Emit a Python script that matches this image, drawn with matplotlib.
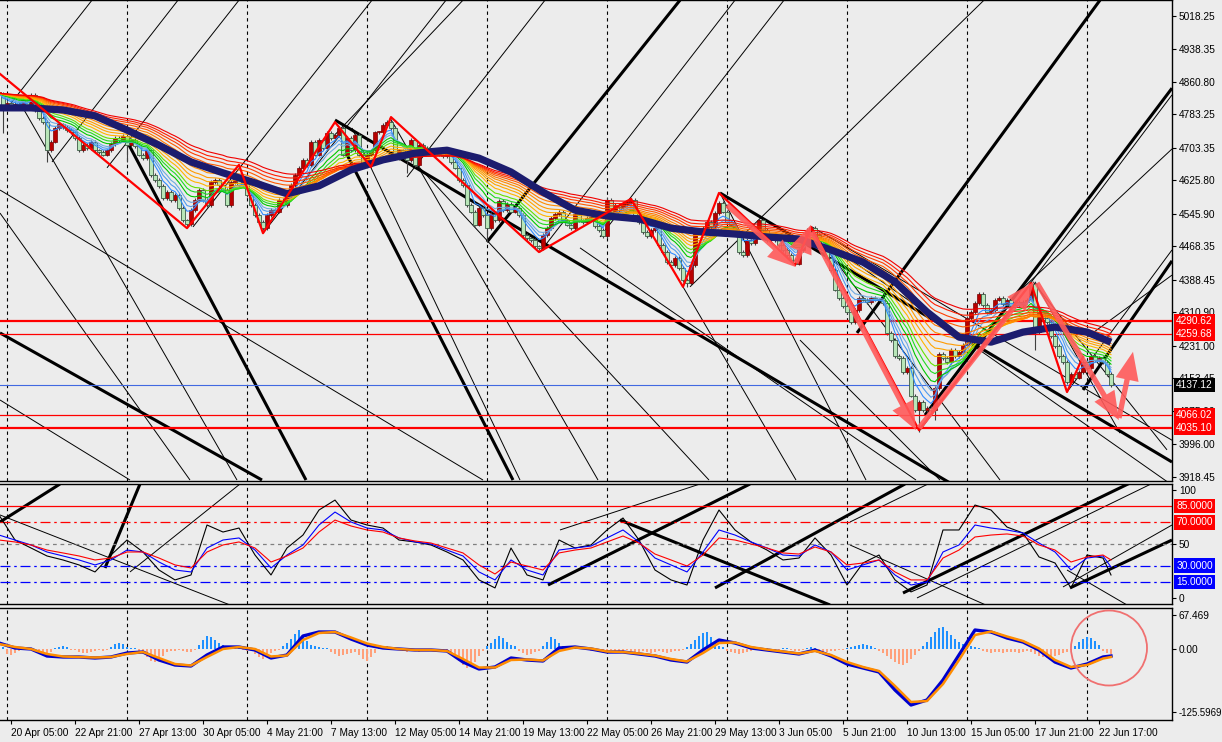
import numpy as np
import pandas as pd
import matplotlib
matplotlib.use('Agg')
import matplotlib.pyplot as plt
from matplotlib.patches import Ellipse, ArrowStyle
from matplotlib.transforms import blended_transform_factory

plt.rcParams['font.family'] = ['Liberation Sans', 'DejaVu Sans']
BG = '#ECECEC'
FS = 7.3

# ---------------- data (H4 bars, bar 0 = 20 Apr 01:00) ----------------
first_bar = -2
closes = [
    4834, 4799, 4811, 4804, 4808, 4799, 4818, 4806, 4830, 4794,
    4775, 4765, 4698, 4718, 4751, 4760, 4753, 4746, 4741, 4727,
    4698, 4710, 4703, 4718, 4698, 4694, 4687, 4698, 4713, 4727,
    4722, 4732, 4710, 4722, 4708, 4687, 4679, 4698, 4639, 4627,
    4613, 4584, 4598, 4579, 4591, 4560, 4531, 4522, 4555, 4579,
    4603, 4579, 4567, 4622, 4627, 4615, 4603, 4567, 4622, 4636,
    4615, 4622, 4591, 4567, 4543, 4527, 4512, 4543, 4555, 4551,
    4579, 4567, 4591, 4615, 4639, 4656, 4675, 4663, 4718, 4687,
    4722, 4703, 4739, 4727, 4734, 4751, 4687, 4727, 4698, 4734,
    4687, 4663, 4687, 4698, 4741, 4741, 4758, 4765, 4751, 4679,
    4698, 4691, 4675, 4722, 4663, 4710, 4703, 4694, 4698, 4687,
    4698, 4684, 4694, 4670, 4656, 4627, 4615, 4567, 4551, 4520,
    4560, 4543, 4512, 4546, 4531, 4577, 4555, 4570, 4551, 4560,
    4543, 4496, 4488, 4484, 4469, 4465, 4496, 4512, 4536, 4546,
    4551, 4531, 4520, 4512, 4546, 4531, 4527, 4536, 4539, 4517,
    4508, 4493, 4579, 4551, 4567, 4562, 4570, 4574, 4579, 4543,
    4527, 4503, 4493, 4508, 4512, 4472, 4455, 4431, 4424, 4441,
    4417, 4388, 4381, 4424, 4503, 4503, 4512, 4527, 4515, 4548,
    4572, 4551, 4527, 4520, 4503, 4455, 4448, 4484, 4477, 4493,
    4531, 4508, 4484, 4484, 4491, 4472, 4460, 4448, 4436, 4427,
    4460, 4488, 4508, 4512, 4496, 4484, 4460, 4441, 4412, 4365,
    4345, 4326, 4312, 4288, 4317, 4345, 4341, 4336, 4345, 4341,
    4341, 4333, 4262, 4245, 4207, 4202, 4169, 4178, 4112, 4078,
    4097, 4078, 4083, 4078, 4131, 4212, 4202, 4193, 4221, 4207,
    4217, 4233, 4298, 4312, 4333, 4355, 4329, 4312, 4317, 4341,
    4345, 4331, 4341, 4326, 4336, 4329, 4336, 4341, 4379, 4264,
    4312, 4298, 4288, 4255, 4231, 4207, 4193, 4145, 4164, 4155,
    4169, 4193, 4178, 4207, 4197, 4202, 4193, 4164, 4137.12,
]
spike_lows = {-1: 4739, 10: 4670, 30: 4670, 100: 4644, 120: 4479,
              170: 4372, 228: 4026, 232: 4054, 257: 4221}
spike_highs = {150: 4586, 256: 4388}

# slow moving average (thick navy), read every 8 bars
navy_bars = list(range(-2, 271, 8)) + [276]
navy_vals = [4799, 4799, 4794, 4780, 4746, 4710, 4670, 4644, 4620, 4594,
             4613, 4651, 4675, 4691, 4698, 4679, 4646, 4598, 4555, 4541,
             4534, 4512, 4503, 4498, 4491, 4486, 4460, 4431, 4384, 4312,
             4252, 4240, 4264, 4276, 4264, 4240]

ribbon_periods = [5, 7, 9, 12, 15, 18, 22, 26, 30, 35, 40, 46, 52, 58, 65]
ribbon_colors = ['#2E8BFF', '#4F9BEF', '#6FAAE0', '#00C800', '#22DA22', '#66E000',
                 '#FFB400', '#FFA500', '#FF9A00', '#FF8C00', '#FF7800', '#FF5A00',
                 '#FF3C00', '#FF1E00', '#F00000']

zz_bars = [-2, 45, 58, 64, 82, 91, 96, 133, 156, 169, 178, 197, 201, 228, 256, 265, 269]
zz_prices = [4882, 4512, 4663, 4500, 4765, 4658, 4777, 4455, 4582, 4372, 4596,
             4424, 4515, 4030, 4381, 4121, 4205]

arrow_from = [(180, 4567), (197.25, 4429), (201.25, 4503), (228, 4035), (257.5, 4381), (278, 4059)]
arrow_to = [(197.25, 4419), (201, 4520), (227.25, 4030), (256.75, 4384), (278, 4054), (281.5, 4217)]

# trend lines: (bar0, price0, bar1, price1, width)
main_lines = [
    (82, 4770, 235.75, 3904, 2.2), (178.25, 4596, 291.25, 3954, 2.2),
    (84, 4706, 126.5, 3911, 2.2), (30.25, 4715, 74.75, 3911, 2.2),
    (-1.75, 4262, 63.75, 3911, 2.2), (120, 4479, 168.25, 5056, 2.2),
    (212.5, 4262, 273.25, 5056, 2.2), (229.5, 4066, 291.25, 4846, 2.2),
    (269, 4126, 291.25, 4434, 2.2),
    (0.25, 4801, 21.25, 5056, 0.7), (11.25, 4670, 42.75, 5056, 0.7),
    (25, 4656, 58, 5056, 0.7), (46.5, 4515, 91.25, 5056, 0.7),
    (64, 4500, 109.75, 5056, 0.7), (100, 4634, 134.5, 5056, 0.7),
    (133.25, 4455, 182, 5056, 0.7), (148.25, 4491, 194.25, 5056, 0.7),
    (170.75, 4372, 244.25, 5056, 0.7), (228.25, 4030, 291.25, 4830, 0.7),
    (265, 4121, 291.25, 4460, 0.7), (81.5, 4730, 114, 5056, 0.7),
    (250.25, 4336, 291.25, 4701, 0.7), (270, 4252, 291.25, 4400, 0.7),
    (3.25, 4811, 57.5, 3911, 0.7), (-1.75, 4603, 119, 3911, 0.7),
    (-1.75, 4548, 45.75, 3911, 0.7), (-1.75, 4102, 30.75, 3911, 0.7),
    (86.25, 4751, 128.25, 3911, 0.7), (95.75, 4775, 147.75, 3911, 0.7),
    (102.5, 4663, 175.5, 3911, 0.7), (143.25, 4465, 227.25, 3911, 0.7),
    (169, 4372, 197.25, 3911, 0.7), (178.25, 4596, 214.75, 3911, 0.7),
    (200.75, 4515, 248.25, 3911, 0.7), (198.25, 4245, 233.25, 3911, 0.7),
    (201.25, 4515, 291.25, 4006, 0.7), (257, 4384, 278.25, 4023, 0.7),
    (256.5, 4384, 290, 3983, 0.7), (201.5, 4500, 291.25, 3899, 0.7),
]
levels_main = [(4290.62, 'red', 1.6), (4259.68, 'red', 0.9), (4066.02, 'red', 0.9),
               (4035.10, 'red', 1.6)]
bid = 4137.12
price_ticks = [5018.25, 4938.35, 4860.80, 4783.25, 4703.35, 4625.80, 4545.90, 4468.35,
               4388.45, 4310.90, 4231.00, 4153.45, 4075.90, 3996.00, 3918.45]

# oscillator (sampled every 4 bars)
osc_bars = list(range(-2, 275, 4)) + [276]
osc_black = [76.9, 53.7, 46.3, 38.9, 35.2, 30.6, 24.1, 39.8, 53.7, 42.6,
             25.9, 16.7, 21.3, 67.6, 61.1, 64.8, 39.8, 21.3, 46.3, 58.3,
             81.5, 90.7, 72.2, 67.6, 64.8, 53.7, 51.9, 49.1, 42.6, 35.2,
             16.7, 9.3, 46.3, 21.3, 16.7, 53.7, 46.3, 49.1, 63.0, 74.1,
             53.7, 25.9, 16.7, 12.0, 53.7, 81.5, 63.0, 51.9, 44.4, 35.2,
             37.0, 55.6, 39.8, 12.0, 32.4, 39.8, 16.7, 5.6, 12.0, 63.0,
             63.0, 86.1, 81.5, 65.7, 60.2, 38.0, 32.4, 9.3, 39.8, 37.0,
             21.3]
osc_blue = [58.3, 53.7, 49.1, 42.6, 38.9, 35.2, 30.6, 35.2, 44.4, 42.6,
            33.3, 25.9, 24.1, 46.3, 53.7, 55.6, 44.4, 27.8, 39.8, 49.1,
            67.6, 79.6, 70.4, 64.8, 63.0, 55.6, 51.9, 50.0, 44.4, 38.9,
            24.1, 16.7, 35.2, 25.9, 21.3, 44.4, 46.3, 48.1, 55.6, 63.0,
            51.9, 37.0, 30.6, 24.1, 42.6, 63.0, 58.3, 51.9, 46.3, 39.8,
            38.9, 49.1, 42.6, 25.9, 30.6, 35.2, 21.3, 12.0, 14.8, 42.6,
            49.1, 67.6, 64.8, 63.0, 60.2, 50.9, 42.6, 25.9, 37.0, 38.9,
            28.7]
osc_red = [53.7, 51.9, 49.1, 44.4, 41.7, 38.9, 35.2, 37.0, 42.6, 42.6,
           37.0, 30.6, 27.8, 42.6, 49.1, 51.9, 46.3, 33.3, 38.9, 46.3,
           61.1, 72.2, 66.7, 63.0, 61.1, 55.6, 52.8, 50.9, 46.3, 41.7,
           30.6, 22.2, 33.3, 29.6, 25.9, 41.7, 44.4, 46.3, 51.9, 57.4,
           50.9, 40.7, 35.2, 29.6, 39.8, 55.6, 53.7, 50.0, 46.3, 41.7,
           40.7, 47.2, 42.6, 30.6, 32.4, 35.2, 24.1, 16.7, 16.7, 37.0,
           44.4, 56.5, 58.3, 59.3, 57.4, 49.1, 44.4, 33.3, 38.0, 39.8,
           35.2]
osc_lines = [
    (-1.75, 70.4, 13.25, 105.6, 2.2), (24.5, 27.8, 33.25, 105.6, 2.2),
    (135.25, 12.0, 185.75, 105.6, 2.2), (224, 4.6, 280.75, 106.5, 2.2),
    (265.75, 9.3, 291.25, 53.7, 2.2), (153.25, 72.2, 205.75, -6.5, 2.2),
    (177, 9.3, 224.5, 105.6, 2.2),
    (-1.75, 76.9, 55.75, -6.5, 0.7), (210.75, 70.4, 230.75, 106.5, 0.7),
    (227.5, 0, 286.5, 106.5, 0.7), (264, 10.2, 291.25, 67.6, 0.7),
    (210.75, 49.1, 247.5, -11.1, 0.7), (265, 25.9, 280, -6.5, 0.7),
    (30.75, 24.1, 58.25, 105.6, 0.7), (138.25, 63.0, 173.25, 105.6, 0.7),
]

# MACD (lines sampled every 4 bars, histogram per bar)
macd_blue = [12, 2, 0, -14, -16, -16, -18, -16, -8, -6,
             -22, -32, -34, -12, 4, 4, -2, -18, -12, 26,
             34, 34, 20, 8, 2, 0, -2, -2, -4, -26,
             -40, -36, -18, -22, -24, 2, 4, 0, -6, -6,
             -10, -14, -22, -26, -2, 18, 12, 2, -2, -6,
             -10, -2, -14, -30, -38, -46, -82, -112, -102, -62,
             -12, 38, 34, 22, 14, -2, -26, -38, -30, -16,
             -14]
macd_orange = [10, 4, 0, -10, -15, -16, -17, -16, -10, -6,
               -18, -30, -33, -16, 0, 4, 0, -15, -13, 18,
               32, 34, 23, 11, 4, 0, -2, -2, -4, -20,
               -37, -37, -22, -21, -23, -4, 3, 1, -5, -6,
               -9, -13, -20, -25, -8, 12, 13, 4, -1, -5,
               -9, -4, -12, -26, -36, -44, -74, -106, -104, -70,
               -22, 28, 35, 25, 16, 1, -22, -36, -32, -19,
               -16]
macd_hist = [
    6, 4, -10, -12, -8, -3, -1, 0, -1, -2,
    -6, -8, -8, -6, 2, 5, 6, 4, -2, -2,
    -6, -8, -8, -6, -3, -2, -3, -2, 4, 10,
    12, 10, 4, 3, 2, -6, -10, -16, -24, -26,
    -20, -14, -6, -4, -3, -2, -4, -6, -5, -2,
    8, 18, 26, 24, 18, 12, 8, 6, 4, 3,
    2, -2, -3, -4, -10, -16, -20, -14, -8, -4,
    -2, 6, 12, 20, 30, 38, 26, 16, 8, 6,
    4, 3, 2, -6, -10, -14, -12, -10, -8, -6,
    -12, -20, -24, -16, -8, 4, 6, 6, 4, 2,
    -2, -4, -6, -4, -3, -5, -4, -3, -2, -3,
    -2, -3, -6, -10, -16, -24, -32, -38, -34, -26,
    -14, -4, 6, 12, 20, 26, 22, 14, 8, 6,
    -4, -8, -12, -10, -6, -4, 6, 14, 24, 20,
    12, 6, 4, 4, 3, 2, 2, -2, -3, -4,
    -4, -6, -3, -2, -4, -5, -3, -2, -4, -6,
    -5, -4, -6, -8, -6, -4, -6, -8, -6, -4,
    -3, -2, 4, 10, 18, 26, 32, 34, 24, 12,
    6, 4, -3, -6, -8, -10, -8, -6, -4, -2,
    2, 3, 2, -2, -3, -2, 2, 3, -2, -4,
    -4, -2, 3, 4, 2, -4, -6, -6, -4, -3,
    -2, -2, 2, 4, 6, 8, 10, 8, 6, 3,
    -4, -8, -14, -20, -26, -30, -32, -28, -20, -12,
    -4, 6, 14, 24, 34, 42, 44, 36, 28, 20,
    14, 10, 8, 6, 4, 2, -4, -6, -8, -6,
    -6, -8, -6, -5, -6, -8, -6, -4, -6, -10,
    -14, -16, -18, -16, -14, -12, -8, -6, -2, 6,
    14, 20, 24, 22, 16, 8, -4, -8, -10,
]

date_labels = ['20 Apr 05:00', '22 Apr 21:00', '27 Apr 13:00', '30 Apr 05:00', '4 May 21:00',
               '7 May 13:00', '12 May 05:00', '14 May 21:00', '19 May 13:00', '22 May 05:00',
               '26 May 21:00', '29 May 13:00', '3 Jun 05:00', '5 Jun 21:00', '10 Jun 13:00',
               '15 Jun 05:00', '17 Jun 21:00', '22 Jun 17:00']
week_starts = list(range(0, 271, 30))

# ---------------- figure ----------------
W, H = 1222, 742
fig = plt.figure(figsize=(W / 100, H / 100), dpi=100, facecolor=BG)


def px_axes(top, bottom):
    return fig.add_axes([0, 1 - bottom / H, 1172 / W, (bottom - top) / H], facecolor=BG)


ax = px_axes(0, 481)
ax2 = px_axes(484, 604)
ax3 = px_axes(608, 720)
XL = (-1.75, 291.25)

for a in (ax, ax2, ax3):
    a.set_xlim(*XL)
    a.spines['left'].set_visible(False)
    for s in ('right', 'bottom', 'top'):
        a.spines[s].set_color('black')
        a.spines[s].set_linewidth(1)
    a.tick_params(axis='y', left=False, labelleft=False, right=True, labelright=True,
                  direction='out', length=3, pad=2, labelsize=FS, colors='black')
    a.tick_params(axis='x', bottom=False, labelbottom=False)
    for w in week_starts:
        a.axvline(w, color='black', lw=0.8, ls=(0, (3, 3)), zorder=1)


def side_label(a, y, text, fc):
    tr = blended_transform_factory(a.transAxes, a.transData)
    a.text(1.0035, y, text, transform=tr, fontsize=FS, color='white', va='center', ha='left',
           bbox=dict(boxstyle='square,pad=0.22', fc=fc, ec='none'), zorder=10, clip_on=False)


# ---------------- main panel ----------------
c = np.array(closes, dtype=float)
bars = np.arange(first_bar, first_bar + len(c))
o = np.r_[c[0], c[:-1]]
hi = np.maximum(o, c) + 4
lo = np.minimum(o, c) - 4
for b, v in spike_lows.items():
    lo[b - first_bar] = v
for b, v in spike_highs.items():
    hi[b - first_bar] = v

for b0, p0, b1, p1, lw in main_lines:
    ax.plot([b0, b1], [p0, p1], color='black', lw=lw, zorder=2, solid_capstyle='butt')

up = c >= o
ax.vlines(bars, lo, hi, color='#404040', lw=0.8, zorder=3)
body_h = np.maximum(np.abs(c - o), 2)
ax.bar(bars[up], body_h[up], bottom=np.minimum(o, c)[up], width=0.78,
       color='#B80000', edgecolor='#7A0000', lw=0.5, zorder=4)
ax.bar(bars[~up], body_h[~up], bottom=np.minimum(o, c)[~up], width=0.78,
       color='#B8E6B8', edgecolor='#3C5A46', lw=0.6, zorder=4)

cs = pd.Series(c)
for p, col in zip(ribbon_periods, ribbon_colors):
    ax.plot(bars, cs.ewm(span=p, adjust=False).mean(), color=col, lw=0.8, zorder=5)
ax.plot(navy_bars, navy_vals, color='#1C1C6E', lw=5.2, zorder=6, solid_capstyle='butt')
ax.plot(zz_bars, zz_prices, color='red', lw=1.6, zorder=7)

for lvl, col, lw in levels_main:
    ax.axhline(lvl, color=col, lw=lw, zorder=3)
ax.axhline(bid, color='#4169E1', lw=0.8, zorder=3)

head = ArrowStyle('simple', head_length=1.7, head_width=1.4, tail_width=0.32)
for (x0, y0), (x1, y1) in zip(arrow_from, arrow_to):
    ax.annotate('', xy=(x1, y1), xytext=(x0, y0),
                arrowprops=dict(arrowstyle=head, mutation_scale=12, lw=0,
                                fc='#FF5A5A', ec='none', alpha=0.9, shrinkA=0, shrinkB=0),
                zorder=8)

ax.set_ylim(3908.7, 5056.4)
ax.set_yticks(price_ticks)
ax.set_yticklabels(['%.2f' % v for v in price_ticks])
for lvl, _, _ in levels_main:
    side_label(ax, lvl, '%.2f' % lvl, 'red')
side_label(ax, bid, '%.2f' % bid, 'black')

# ---------------- oscillator ----------------
for b0, v0, b1, v1, lw in osc_lines:
    ax2.plot([b0, b1], [v0, v1], color='black', lw=lw, zorder=2, solid_capstyle='butt')
ax2.axhline(85, color='red', lw=0.9, zorder=2)
ax2.axhline(70, color='red', lw=0.9, ls=(0, (8, 3, 2, 3)), zorder=2)
ax2.axhline(50, color='#808080', lw=0.9, ls=(0, (3, 3)), zorder=2)
ax2.axhline(30, color='blue', lw=0.9, ls=(0, (8, 3, 2, 3)), zorder=2)
ax2.axhline(15, color='blue', lw=0.9, ls=(0, (8, 3, 2, 3)), zorder=2)
ax2.plot(osc_bars, osc_black, color='black', lw=0.8, zorder=4)
ax2.plot(osc_bars, osc_blue, color='blue', lw=0.8, zorder=5)
ax2.plot(osc_bars, osc_red, color='red', lw=0.8, zorder=5)
ax2.set_ylim(-5.6, 105.6)
ax2.set_yticks([100, 50, 0])
ax2.set_yticklabels(['100', '50', '0'])
for lvl, col in [(85, 'red'), (70, 'red'), (30, 'blue'), (15, 'blue')]:
    side_label(ax2, lvl, '%.4f' % lvl, col)

# ---------------- MACD ----------------
hist = np.array(macd_hist, dtype=float)
ax3.bar(bars, hist, width=0.6, color=np.where(hist >= 0, '#1E90FF', '#FFA07A'), zorder=3)
ax3.plot(osc_bars, macd_blue, color='#0000CD', lw=2.4, zorder=4)
ax3.plot(osc_bars, macd_orange, color='#FF8C00', lw=1.8, zorder=5)
ax3.add_patch(Ellipse((275.5, 2), 19, 150, fill=False, ec='#F07070', lw=1.3, zorder=6))
ax3.set_ylim(-142, 82)
ax3.set_yticks([67.469, 0, -125.5969])
ax3.set_yticklabels(['67.469', '0.00', '-125.5969'])
ax3.get_yticklabels()[2].set_fontsize(6.9)

date_pos = [1 + 16 * k for k in range(len(date_labels))]
ax3.set_xticks(date_pos)
ax3.set_xticklabels(date_labels, ha='left')
ax3.tick_params(axis='x', bottom=True, labelbottom=True, direction='out', length=3,
                pad=3, labelsize=FS)

fig.savefig('out.png', dpi=100, facecolor=BG)
